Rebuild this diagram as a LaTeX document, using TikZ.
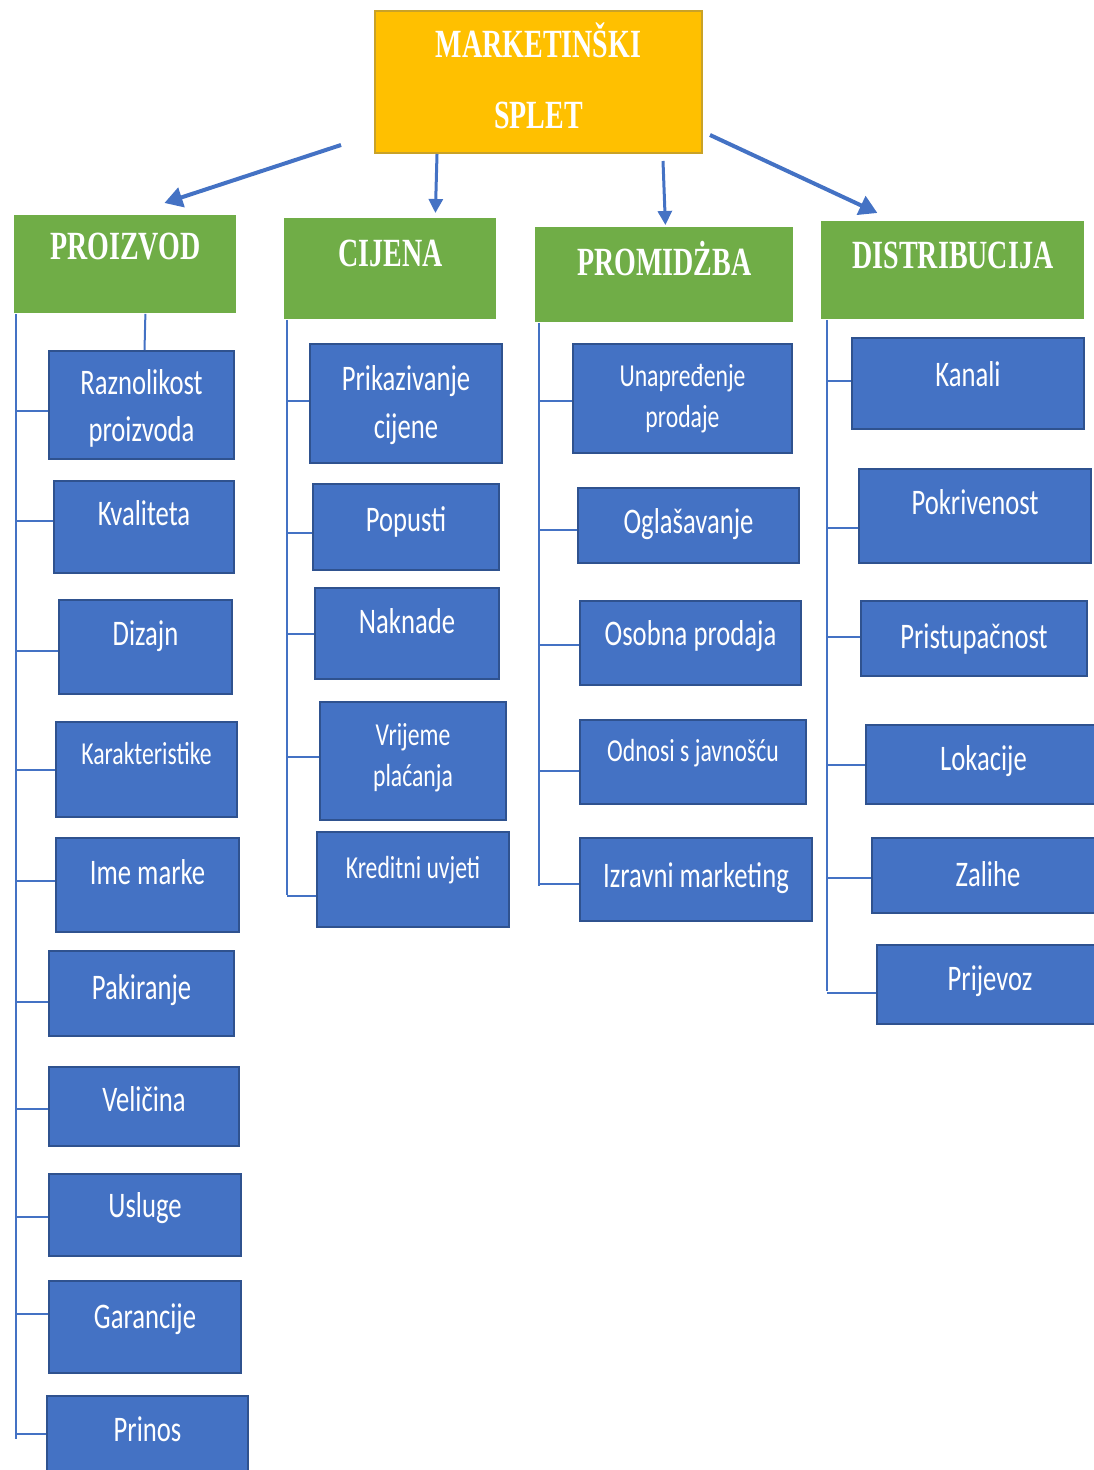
\documentclass[tikz,border=0pt]{standalone}
\usepackage{fontspec}
\usetikzlibrary{arrows.meta}
\newfontfamily\headfam{Liberation Serif}[FakeStretch=0.70]
\newfontfamily\itemfam{Carlito}[FakeStretch=0.74]
\newcommand{\headfont}{\headfam\bfseries\fontsize{20}{35.5}\selectfont}
\newcommand{\itemfont}{\itemfam\fontsize{18}{24}\selectfont}
\newcommand{\itemsmall}{\itemfam\fontsize{16}{20.5}\selectfont}
\definecolor{itemblue}{HTML}{4472C4}
\definecolor{itemedge}{HTML}{2F528F}
\definecolor{headgreen}{HTML}{70AD47}
\definecolor{topgold}{HTML}{FFC000}
\definecolor{topedge}{HTML}{C9A227}
\definecolor{linkblue}{HTML}{4472C4}
\tikzset{
	item/.style={draw=itemedge, fill=itemblue, line width=1pt, text=white,
		font=\itemfont, inner sep=0pt, anchor=north west, align=center},
	itemsm/.style={item, font=\itemsmall},
	head/.style={fill=headgreen, text=white, font=\headfont, inner sep=0pt,
		anchor=north west, align=center},
	sz/.style n args={3}{minimum width=#1, text height=#2, text depth=#3},
	link/.style={draw=linkblue, line width=1pt},
	arrthick/.style={draw=linkblue, line width=2pt,
		-{Triangle[length=9pt,width=10pt]}},
	arrthin/.style={draw=linkblue, line width=1.5pt,
		-{Triangle[length=7pt,width=7pt]}}
}
\begin{document}
\begin{tikzpicture}[x=0.5pt, y=-0.5pt]
	\useasboundingbox (0,0) rectangle (1093,1470);
	% glavni okvir
	\node[head, fill=topgold, draw=topedge, line width=1pt,
		sz={163.5pt}{59pt}{12pt}] (top) at (374,10) {MARKETINŠKI\\SPLET};
	% naslovi stupaca
	\node[head, sz={111pt}{22pt}{27pt}] (proizvod) at (14,215) {PROIZVOD};
	\node[head, sz={106pt}{24pt}{26.5pt}] (cijena) at (284,218) {CIJENA};
	\node[head, sz={129pt}{24pt}{23.5pt}] (promidzba) at (535,227) {PROMIDŻBA};
	\node[head, sz={131.5pt}{23.5pt}{25.5pt}] (distrib) at (821,221) {DISTRIBUCIJA};
	% strelice
	\draw[arrthick] ([xshift=-16.5pt, yshift=4.5pt]top.south west)
		-- ([xshift=19.5pt, yshift=6pt]proizvod.north);
	\draw[arrthin] ([xshift=31.5pt]top.south west)
		-- ([xshift=22.5pt, yshift=2.5pt]cijena.north);
	\draw[arrthin] ([xshift=144.5pt, yshift=-3.5pt]top.south west)
		-- ([xshift=0.5pt, yshift=1pt]promidzba.north);
	\draw[arrthick] ([xshift=3.5pt, yshift=9.5pt]top.south east)
		-- ([xshift=-37.75pt, yshift=4pt]distrib.north);

	% PROIZVOD
	\node[item, sz={92.5pt}{45.5pt}{8.5pt}] (raz) at (48,350) {Raznolikost\\proizvoda};
	\node[item, sz={90pt}{22pt}{24pt}] (kva) at (53,480) {Kvaliteta};
	\node[item, sz={86.5pt}{22.5pt}{24.5pt}] (diz) at (58,599) {Dizajn};
	\node[itemsm, sz={90.5pt}{21pt}{26.5pt}] (kar) at (55,721) {Karakteristike};
	\node[item, sz={91.5pt}{23pt}{24pt}] (ime) at (55,837) {Ime marke};
	\node[item, sz={92.5pt}{24pt}{18.5pt}] (pak) at (48,950) {Pakiranje};
	\node[item, sz={95pt}{22pt}{17.5pt}] (vel) at (48,1066) {Veličina};
	\node[item, sz={96pt}{21.5pt}{19.5pt}] (usl) at (48,1173) {Usluge};
	\node[item, sz={96pt}{23.5pt}{22.5pt}] (gar) at (48,1280) {Garancije};
	\node[item, sz={100.5pt}{22.5pt}{17.5pt}] (prin) at (46,1395) {Prinos};
	\coordinate (pEnd) at (16,1439);
	\draw[link] ([xshift=1pt]proizvod.south west) -- (pEnd);
	\draw[link] ([xshift=10pt]proizvod.south) -- ([xshift=1.5pt]raz.north);
	\foreach \b/\s in {raz/-3pt, kva/3pt, diz/-2pt, kar/0pt, ime/2pt,
		pak/-4pt, vel/-1pt, usl/-1pt, gar/6.5pt, prin/1pt}
		\draw[link] ([yshift=\s]\b.west -| pEnd) -- ([yshift=\s]\b.west);

	% CIJENA
	\node[item, sz={96pt}{47pt}{12.5pt}] (prik) at (309,343) {Prikazivanje\\cijene};
	\node[item, sz={93pt}{23.5pt}{19.5pt}] (pop) at (312,483) {Popusti};
	\node[item, sz={92pt}{22.5pt}{23pt}] (nak) at (314,587) {Naknade};
	\node[itemsm, sz={93pt}{42.25pt}{16.75pt}] (vrij) at (319,701) {Vrijeme\\plaćanja};
	\node[itemsm, sz={96pt}{23pt}{24.5pt}] (kred) at (316,831) {Kreditni uvjeti};
	\coordinate (cEnd) at (287,895);
	\draw[link] ([xshift=1.5pt]cijena.south west) -- (cEnd);
	\foreach \b/\s in {prik/1pt, pop/-3pt, nak/0pt, vrij/2pt, kred/-8pt}
		\draw[link] ([yshift=\s]\b.west -| cEnd) -- ([yshift=\s]\b.west);

	% PROMIDZBA
	\node[itemsm, sz={109.5pt}{42pt}{12.5pt}] (unap) at (572,343) {Unapređenje\\prodaje};
	\node[item, sz={110.5pt}{22.5pt}{15pt}] (ogl) at (577,487) {Oglašavanje};
	\node[item, sz={110.5pt}{22pt}{20pt}] (oso) at (579,600) {Osobna prodaja};
	\node[itemsm, sz={113pt}{20.5pt}{21.5pt}] (odn) at (579,719) {Odnosi s javnošću};
	\node[item, sz={116pt}{24.5pt}{17pt}] (izr) at (579,837) {Izravni marketing};
	\coordinate (mEnd) at (539,886);
	\draw[link] ([xshift=2pt]promidzba.south west) -- (mEnd);
	\foreach \b/\s in {unap/-1.5pt, ogl/-2pt, oso/-1pt, odn/-4.5pt, izr/-2pt}
		\draw[link] ([yshift=\s]\b.west -| mEnd) -- ([yshift=\s]\b.west);

	% DISTRIBUCIJA
	\node[item, sz={116pt}{24.5pt}{21pt}] (kan) at (851,337) {Kanali};
	\node[item, sz={116pt}{22.5pt}{24.5pt}] (pok) at (858,468) {Pokrivenost};
	\node[item, sz={113pt}{23.5pt}{14pt}] (pris) at (860,600) {Pristupačnost};
	\node[item, sz={117.5pt}{22.5pt}{17pt}] (lok) at (865,724) {Lokacije};
	\node[item, sz={116pt}{24pt}{13.5pt}] (zal) at (871,837) {Zalihe};
	\node[item, sz={113pt}{22.5pt}{17pt}] (prij) at (876,944) {Prijevoz};
	\coordinate (dEnd) at (827,991);
	\draw[link] ([xshift=3pt]distrib.south west) -- (dEnd);
	\foreach \b/\s in {kan/1pt, pok/-6pt, pris/1pt, lok/0pt, zal/-1pt, prij/-4pt}
		\draw[link] ([yshift=\s]\b.west -| dEnd) -- ([yshift=\s]\b.west);
\end{tikzpicture}
\end{document}
